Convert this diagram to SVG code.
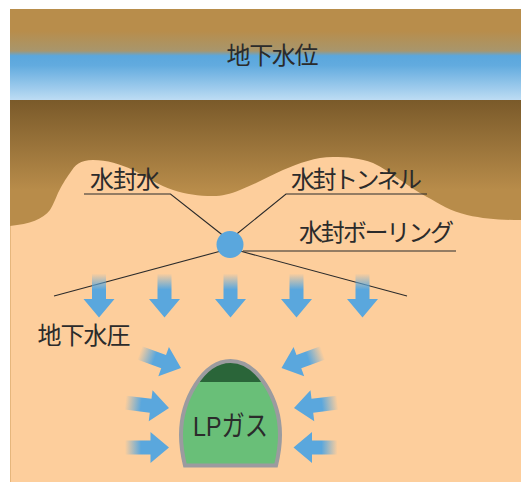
<svg xmlns="http://www.w3.org/2000/svg" width="521" height="482" viewBox="0 0 521 482">
  <style>
    text { font-family: "Liberation Sans", "Noto Sans CJK JP", sans-serif; fill: #2b2b2b; font-size: 24px; }
    .leader { fill: none; stroke: #2b2b2b; stroke-width: 1.1; }
  </style>
  <defs>
    <linearGradient id="strata" x1="0" y1="9" x2="0" y2="100" gradientUnits="userSpaceOnUse">
      <stop offset="0" stop-color="#b88d4b"/>
      <stop offset="0.24" stop-color="#b88d4b"/>
      <stop offset="0.46" stop-color="#a8966c"/>
      <stop offset="0.515" stop-color="#5aa7dd"/>
      <stop offset="0.62" stop-color="#62abdf"/>
      <stop offset="1" stop-color="#bddcf3"/>
    </linearGradient>
    <linearGradient id="ground" x1="0" y1="100" x2="0" y2="200" gradientUnits="userSpaceOnUse">
      <stop offset="0" stop-color="#7a5a2a"/>
      <stop offset="0.9" stop-color="#b88c4a"/>
      <stop offset="1" stop-color="#b88c4a"/>
    </linearGradient>
    <linearGradient id="flow" x1="-44" y1="0" x2="-28" y2="0" gradientUnits="userSpaceOnUse">
      <stop offset="0" stop-color="#5aa7dd" stop-opacity="0"/>
      <stop offset="1" stop-color="#5aa7dd"/>
    </linearGradient>
    <path id="arrow" fill="url(#flow)" d="M-44,-7 H-18.500 V-15.500 L0,0 L-18.500,15.500 V7 H-44 Z"/>
    <path id="vault" d="M185,465.500 C182,453 181,445 181,435 C181,400 203,361 230.500,361 C258,361 280,400 280,435 C280,445 279,453 276,465.500 Z"/>
    <clipPath id="vault-clip"><use href="#vault"/></clipPath>
  </defs>

  <!-- ground layers -->
  <g id="strata-layers">
    <rect x="10" y="9" width="511" height="91" fill="url(#strata)"/>
    <rect x="10" y="100" width="511" height="382" fill="#fdce9c"/>
    <path fill="url(#ground)" d="M10,100 H521 V220 C500,220 485,219 467,215 C450,211 440,204 427,197 C405,185 392,172 373,163 C360,158 347,157 333,157 C315,157 300,163 283,170 C268,177 255,184 240,190 C230,194 222,196 213,196 C198,196 186,194 173,190 C158,185 146,177 133,170 C120,164 107,160 93,160 C80,160 75,165 70,173 C65,180 62,185 58,193 C55,200 53,205 50,210 C43,219 30,224 10,226 Z"/>
    <line x1="10.500" y1="226" x2="10.500" y2="482" stroke="#e6b67c" stroke-width="1"/>
  </g>

  <!-- leader lines -->
  <g id="connectors">
    <path class="leader" d="M84,194 H170.500 L225,237"/>
    <path class="leader" d="M427,194 H286 L233,237"/>
    <path class="leader" d="M243,251 H456"/>
    <path class="leader" d="M54,296 L221,251"/>
    <path class="leader" d="M240,251 L407,296"/>
  </g>

  <g id="tunnel-section">
    <circle cx="230" cy="244.500" r="13.500" fill="#5aa7dd"/>
  </g>

  <!-- pressure arrows -->
  <g id="pressure-arrows">
    <use href="#arrow" transform="translate(99,317.500) rotate(90)"/>
    <use href="#arrow" transform="translate(164.500,317.500) rotate(90)"/>
    <use href="#arrow" transform="translate(230.500,317.500) rotate(90)"/>
    <use href="#arrow" transform="translate(296.500,317.500) rotate(90)"/>
    <use href="#arrow" transform="translate(362.500,317.500) rotate(90)"/>
    <use href="#arrow" transform="translate(181,368) rotate(20)"/>
    <use href="#arrow" transform="translate(169,408) rotate(7)"/>
    <use href="#arrow" transform="translate(169,447.500)"/>
    <use href="#arrow" transform="translate(281.500,368) rotate(160)"/>
    <use href="#arrow" transform="translate(294,408) rotate(173)"/>
    <use href="#arrow" transform="translate(293.500,447.500) rotate(180)"/>
  </g>

  <!-- storage cavern -->
  <g id="cavern">
    <use href="#vault" fill="#69bf78"/>
    <rect x="175" y="355" width="110" height="27" fill="#2a6539" clip-path="url(#vault-clip)"/>
    <use href="#vault" fill="none" stroke="#9b9b9f" stroke-width="4"/>
    <text x="193" y="435.500" style="font-size:28px" textLength="75" lengthAdjust="spacingAndGlyphs">LPガス</text>
  </g>

  <g id="label-groundwater-level"><text x="226.500" y="64" textLength="92">地下水位</text></g>
  <g id="label-seal-water"><text x="90" y="188" textLength="70">水封水</text></g>
  <g id="label-seal-tunnel"><text x="291" y="188" textLength="131">水封トンネル</text></g>
  <g id="label-seal-boring"><text x="299" y="241" textLength="155">水封ボーリング</text></g>
  <g id="label-pressure"><text x="37.500" y="344" textLength="93">地下水圧</text></g>
</svg>
